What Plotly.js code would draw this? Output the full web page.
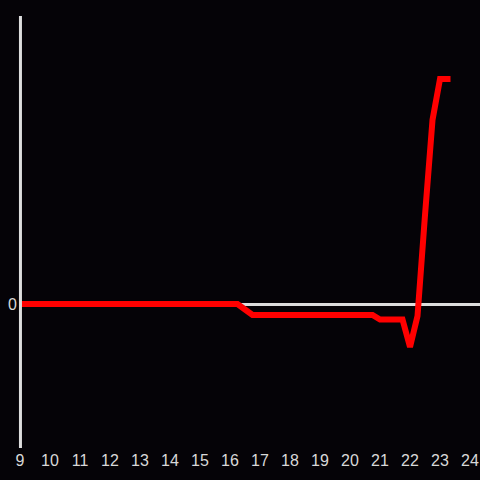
<!DOCTYPE html>
<html>
<head>
<meta charset="utf-8">
<script src="https://cdn.plot.ly/plotly-3.0.1.min.js"></script>
<style>
html,body{margin:0;padding:0;background:#050307;}
#chart{width:480px;height:480px;}
g.plot{clip-path:none !important;}
.scatterlayer path.js-line{stroke-linecap:square;}
</style>
</head>
<body>
<div id="chart"></div>
<script>
// hours (15-minute steps)
const hours = [9,9.25,9.5,9.75,10,10.25,10.5,10.75,11,11.25,11.5,11.75,12,12.25,12.5,12.75,
  13,13.25,13.5,13.75,14,14.25,14.5,14.75,15,15.25,15.5,15.75,16,16.25,16.5,16.75,
  17,17.25,17.5,17.75,18,18.25,18.5,18.75,19,19.25,19.5,19.75,20,20.25,20.5,20.75,
  21,21.25,21.5,21.75,22,22.25,22.5,22.75,23,23.25];
const values = [0,0,0,0,0,0,0,0,0,0,0,0,0,0,0,0,
  0,0,0,0,0,0,0,0,0,0,0,0,0,0,-0.55,-1.1,
  -1.1,-1.1,-1.1,-1.1,-1.1,-1.1,-1.1,-1.1,-1.1,-1.1,-1.1,-1.1,-1.1,-1.1,-1.1,-1.1,
  -1.55,-1.55,-1.55,-1.55,-4.3,-1.2,8.9,18.4,22.5,22.5];
const xTicks = [9,10,11,12,13,14,15,16,17,18,19,20,21,22,23,24];

const trace = {
  x: hours, y: values, type: 'scatter', mode: 'lines',
  line: {color: '#ff0000', width: 6},
  hoverinfo: 'none'
};
const layout = {
  width: 480, height: 480,
  paper_bgcolor: '#050307', plot_bgcolor: '#050307',
  margin: {l: 20, r: 0, t: 16, b: 32},
  showlegend: false,
  font: {family: 'Liberation Sans, Arial, sans-serif', size: 16, color: '#d8d8d8'},
  xaxis: {
    range: [9, 24.333], tickvals: xTicks, ticktext: xTicks.map(String),
    showgrid: false, zeroline: false, showline: false, ticks: '',
    ticklabelstandoff: 1,
    tickfont: {size: 16, color: '#d8d8d8'}
  },
  yaxis: {
    range: [-14.4, 28.8], tickvals: [0], ticktext: ['0'],
    showgrid: false, zeroline: true, zerolinecolor: '#dddddd', zerolinewidth: 3,
    showline: false, ticks: '', ticklabelstandoff: 2,
    tickfont: {size: 16, color: '#d8d8d8'}
  },
  shapes: [{
    type: 'line', xref: 'paper', yref: 'paper', x0: 0.001, x1: 0.001, y0: 0, y1: 1,
    line: {color: '#dddddd', width: 3}, layer: 'above'
  }]
};
Plotly.newPlot('chart', [trace], layout, {displayModeBar: false, staticPlot: true});
</script>
</body>
</html>
